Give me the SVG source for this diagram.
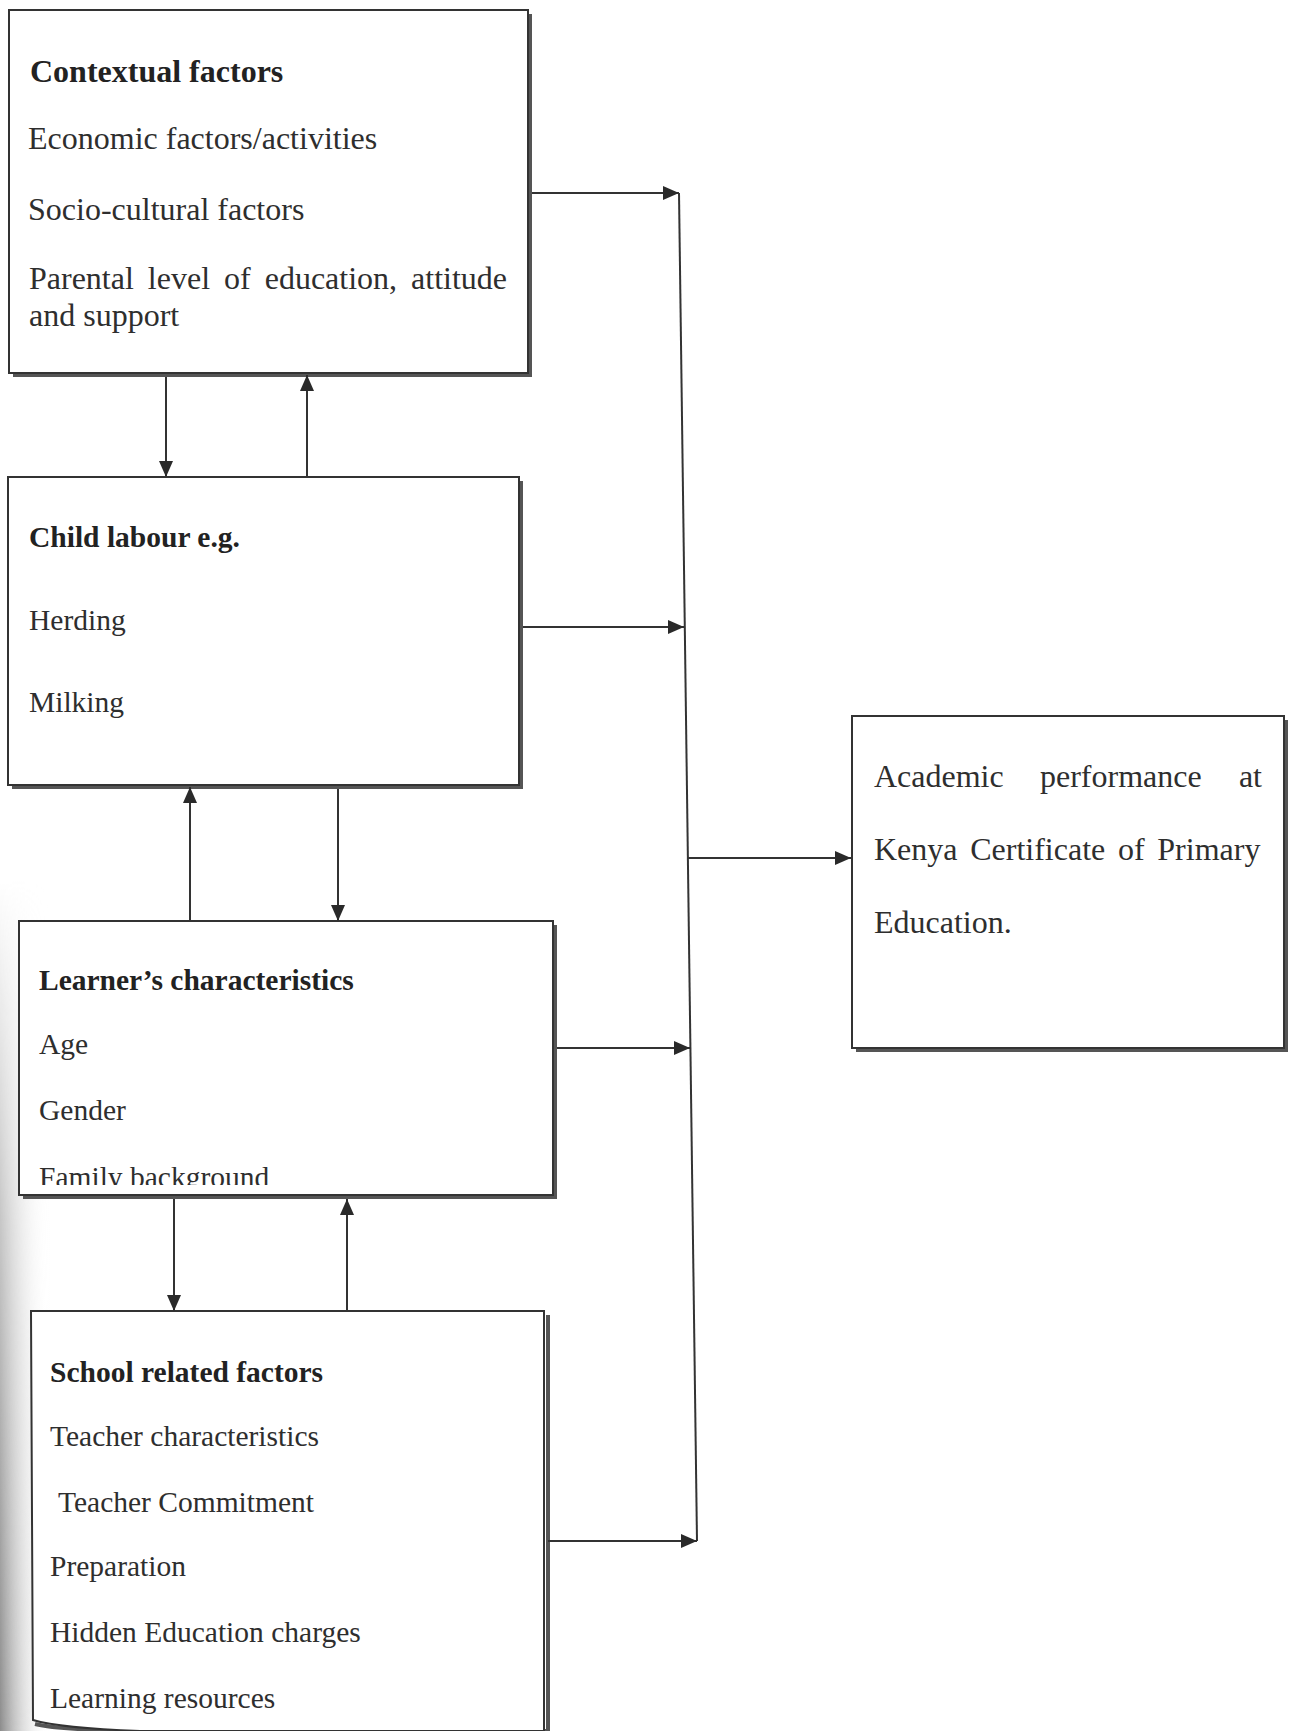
<svg xmlns="http://www.w3.org/2000/svg" width="1292" height="1731" viewBox="0 0 1292 1731">
<defs>
<style>
.box{fill:#fff;stroke:#333;stroke-width:2}
.sh{fill:#555}
.t{font-family:"Liberation Serif","Times New Roman",serif;font-size:32px;fill:#2e2e2e}
.s{font-size:29.5px}
.b{font-weight:bold;fill:#222}
.c{fill:none;stroke:#333;stroke-width:2}
</style>
<marker id="ah" viewBox="0 0 16 14" refX="16" refY="7" markerWidth="16" markerHeight="14" markerUnits="userSpaceOnUse" orient="auto">
<path d="M0,0 L16,7 L0,14 Z" fill="#2a2a2a"/>
</marker>
<linearGradient id="edge" x1="0" y1="0" x2="1" y2="0">
<stop offset="0" stop-color="#8c8c8c"/>
<stop offset="1" stop-color="#fff" stop-opacity="0"/>
</linearGradient>
<linearGradient id="fadeV" x1="0" y1="0" x2="0" y2="1">
<stop offset="0" stop-color="#fff" stop-opacity="0"/>
<stop offset="0.4" stop-color="#fff" stop-opacity="0.5"/>
<stop offset="1" stop-color="#fff" stop-opacity="1"/>
</linearGradient>
<mask id="edgeMask"><rect x="0" y="880" width="50" height="851" fill="url(#fadeV)"/></mask>
<clipPath id="clipB3"><rect x="19" y="921" width="534" height="264"/></clipPath>
</defs>
<rect width="1292" height="1731" fill="#fff"/>
<rect x="0" y="880" width="50" height="851" fill="url(#edge)" mask="url(#edgeMask)"/>

<g id="contextual">
<rect class="sh" x="13" y="14" width="519" height="363"/>
<rect class="box" x="9" y="10" width="519" height="363"/>
<text class="t b" x="30" y="82">Contextual factors</text>
<text class="t" x="28" y="149">Economic factors/activities</text>
<text class="t" x="28" y="220">Socio-cultural factors</text>
<text class="t" x="29" y="289" word-spacing="6">Parental level of education, attitude</text>
<text class="t" x="29" y="326">and support</text>
</g>

<g id="child-labour">
<rect class="sh" x="12" y="481" width="511" height="308"/>
<rect class="box" x="8" y="477" width="511" height="308"/>
<text class="t s b" x="29" y="547">Child labour e.g.</text>
<text class="t s" x="29" y="630">Herding</text>
<text class="t s" x="29" y="712">Milking</text>
</g>

<g id="learner">
<rect class="sh" x="23" y="925" width="534" height="274"/>
<rect class="box" x="19" y="921" width="534" height="274"/>
<text class="t s b" x="39" y="990">Learner’s characteristics</text>
<text class="t s" x="39" y="1054">Age</text>
<text class="t s" x="39" y="1120">Gender</text>
<text class="t s" x="39" y="1187" clip-path="url(#clipB3)">Family background</text>
</g>

<g id="school">
<path d="M35,1724 Q60,1730 140,1731 L548,1731 L548,1315" fill="none" stroke="#555" stroke-width="4"/>
<path class="box" d="M33,1720 L31,1311 L544,1311 L544,1731 L140,1731 Q60,1728 33,1720 Z"/>
<text class="t s b" x="50" y="1382">School related factors</text>
<text class="t s" x="50" y="1446">Teacher characteristics</text>
<text class="t s" x="58" y="1512">Teacher Commitment</text>
<text class="t s" x="50" y="1576">Preparation</text>
<text class="t s" x="50" y="1642">Hidden Education charges</text>
<text class="t s" x="50" y="1708">Learning resources</text>
</g>

<g id="academic">
<rect class="sh" x="856" y="720" width="432" height="332"/>
<rect class="box" x="852" y="716" width="432" height="332"/>
<text class="t" x="874" y="787">Academic</text>
<text class="t" x="1040" y="787">performance</text>
<text class="t" x="1262" y="787" text-anchor="end">at</text>
<text class="t" x="874" y="860" word-spacing="4.7">Kenya Certificate of Primary</text>
<text class="t" x="874" y="933">Education.</text>
</g>

<g id="connectors">
<line class="c" x1="166" y1="377" x2="166" y2="477" marker-end="url(#ah)"/>
<line class="c" x1="307" y1="477" x2="307" y2="375" marker-end="url(#ah)"/>
<line class="c" x1="338" y1="789" x2="338" y2="921" marker-end="url(#ah)"/>
<line class="c" x1="190" y1="921" x2="190" y2="787" marker-end="url(#ah)"/>
<line class="c" x1="174" y1="1199" x2="174" y2="1311" marker-end="url(#ah)"/>
<line class="c" x1="347" y1="1311" x2="347" y2="1199" marker-end="url(#ah)"/>
<line class="c" x1="679" y1="193" x2="697" y2="1541"/>
<line class="c" x1="532" y1="193" x2="679" y2="193" marker-end="url(#ah)"/>
<line class="c" x1="523" y1="627" x2="684" y2="627" marker-end="url(#ah)"/>
<line class="c" x1="557" y1="1048" x2="690" y2="1048" marker-end="url(#ah)"/>
<line class="c" x1="548" y1="1541" x2="697" y2="1541" marker-end="url(#ah)"/>
<line class="c" x1="688" y1="858" x2="851" y2="858" marker-end="url(#ah)"/>
</g>
</svg>
